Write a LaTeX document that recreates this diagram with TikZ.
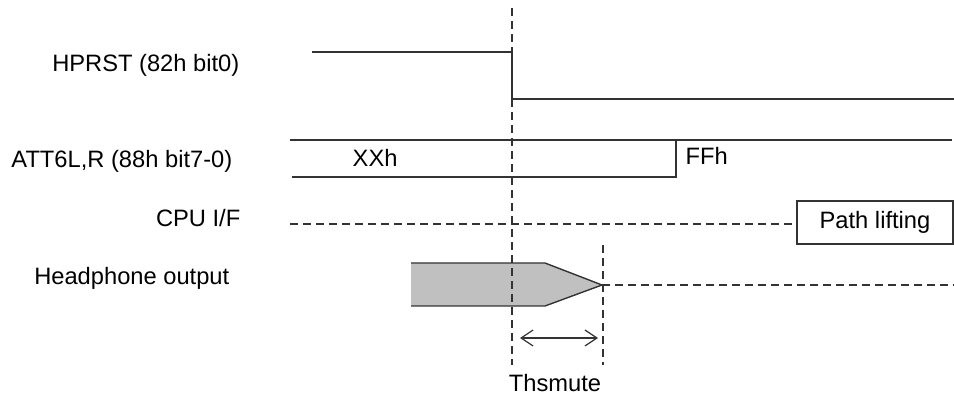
\documentclass[tikz,border=0pt]{standalone}
\usepackage{fontspec}
\setmainfont{Liberation Sans}
\usetikzlibrary{arrows.meta, math, calc}
\definecolor{myline}{RGB}{51,51,51}
\definecolor{mygrey}{RGB}{192,192,192}

\begin{document}
\begin{tikzpicture}[x=1pt,y=-1pt,line width=1.4pt,color=myline,
  lbl/.style={font=\fontsize{23.7}{28}\selectfont,text=black,inner sep=0pt},
  guide/.style={dash pattern=on 8pt off 5pt,line width=1.3pt},
  barb/.style={{Straight Barb[length=12pt,width=16pt]}-{Straight Barb[length=12pt,width=16pt]}}]
\tikzmath{
\tcut=512;
\tend=603;
\tatt=676;
\xL=290;
\xR=954;
}
\useasboundingbox (0,0) rectangle (954,403);

%the labels:
\node[lbl,anchor=base east] (hprst) at (240,72) {HPRST (82h bit0)};
\node[lbl,anchor=base east] (att) at (233,168) {ATT6L,R (88h bit7-0)};
\node[lbl,anchor=base east] (cpu) at (241,227) {CPU I/F};
\node[lbl,anchor=base east] (hp) at (230,285) {Headphone output};

%HPRST:
\coordinate (H1) at (312,52);
\coordinate (H2) at (\tcut,52);
\coordinate (H3) at (\tcut,99);
\coordinate (H4) at (\xR,99);
\draw (H1) -- (H2) -- (H3) -- (H4);

%ATT6L,R:
\coordinate (A1) at (\xL,140);
\coordinate (A2) at (952,140);
\coordinate (A3) at (292,177);
\coordinate (A4) at (\tatt,177);
\coordinate (A5) at (\tatt,140);
\draw (A1) -- (A2);
\draw (A3) -- (A4) -- (A5);
\node[lbl,anchor=base west] (xx) at (352,167) {XXh};
\node[lbl,anchor=base west] (ff) at (685,165) {FFh};

%CPU I/F:
\node[lbl,draw=myline,line width=1.4pt,minimum width=156pt,minimum height=43pt,
  text height=17pt,text depth=4pt] (lift) at (875,222.5) {Path lifting};
\coordinate (C1) at (\xL,224);
\draw[guide] (C1) -- (C1 -| lift.west);

%headphone output:
\coordinate (O1) at (411,263);
\coordinate (O2) at (545,263);
\coordinate (O3) at (\tend-1,285);
\coordinate (O4) at (545,306);
\coordinate (O5) at (411,306);
\fill[mygrey] (O1) -- (O2) -- (O3) -- (O4) -- (O5) -- cycle;
\draw[line join=miter] (O1) -- (O2) -- (O3) -- (O4) -- (O5);
\coordinate (O6) at (\xR,285);
\draw[guide] (O3) -- (O6);

%the timing marks:
\coordinate (T1) at (\tcut,8);
\coordinate (T2) at (\tcut,365);
\coordinate (T3) at (\tend,245);
\coordinate (T4) at (\tend,365);
\draw[guide] (T1) -- (T2);
\draw[guide] (T3) -- (T4);
\draw[barb,line width=1.2pt] ($(T2)+(8,-27)$) -- ($(T4)+(-5,-27)$);
\node[lbl,anchor=base] (ths) at (555,392) {Thsmute};
\end{tikzpicture}
\end{document}
